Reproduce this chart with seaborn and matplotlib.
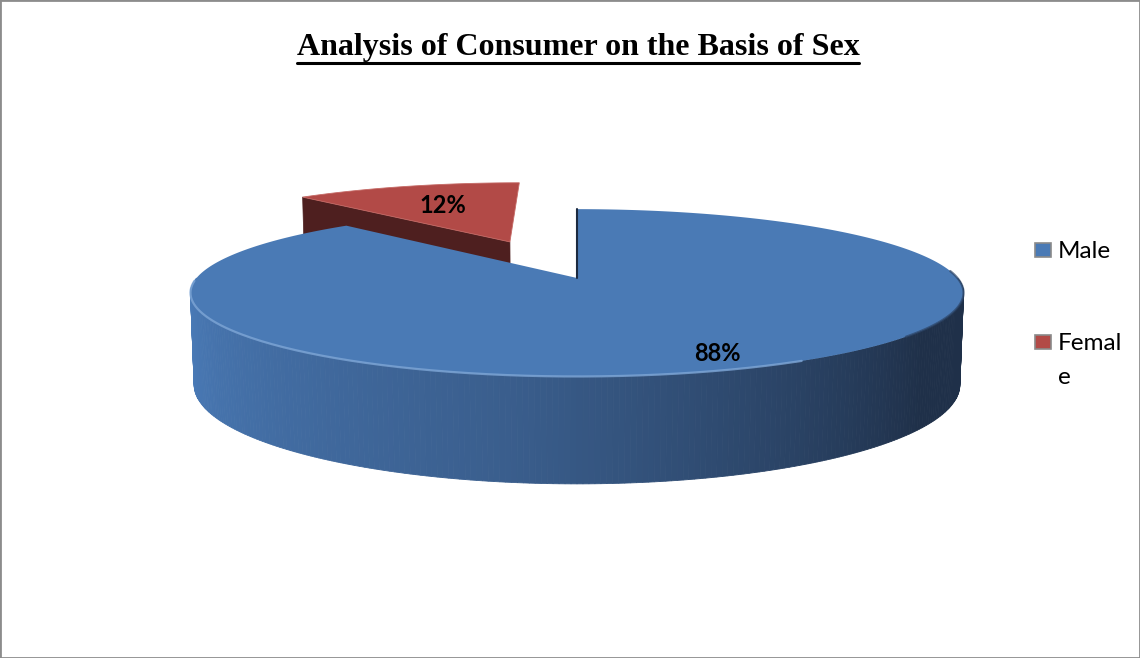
import numpy as np
import matplotlib
matplotlib.use("Agg")
import matplotlib.pyplot as plt
from matplotlib.patches import Polygon, Rectangle
from matplotlib.colors import to_rgb
import seaborn as sns

# datos del grafico
categories = ["Male", "Female"]
shares = [88, 12]
legend_labels = ["Male", "Femal\ne"]
title = "Analysis of Consumer on the Basis of Sex"

sns.set_theme(style="white")
plt.rcParams['font.family'] = ['Lato', 'DejaVu Sans']

top_colors = sns.color_palette(["#4a7ab5", "#b24a47"])
cut_colors = ["#1f3150", "#4e1f1f"]
explode = [0.0, 0.52]
label_radius = [0.86, 0.62]

# proyeccion en perspectiva del "pastel 3D"
E = np.radians(12.3)
D = 5.52
F = 2100
H = 0.243
CX, CY = 577, 278


def project(X, Y, Z):
    v = Y * np.sin(E) + Z * np.cos(E)
    w = D + Y * np.cos(E) - Z * np.sin(E)
    return CX + F * X / w, CY - F * v / w


def side_color(s):
    stops = [0.0, 0.45, 0.8, 1.0]
    cols = [to_rgb(c) for c in ["#4c7fbe", "#3a5e8d", "#1f3049", "#1f3049"]]
    return tuple(np.interp(s, stops, [c[i] for c in cols]) for i in range(3))


fig = plt.figure(figsize=(11.4, 6.58), dpi=100)
ax = fig.add_axes([0, 0, 1, 1])
ax.set_xlim(0, 1140)
ax.set_ylim(658, 0)
ax.axis("off")

# angulos de cada porcion (sentido horario desde las 12)
total = sum(shares)
starts, ends = [], []
a = 90.0
for v in shares:
    starts.append(a)
    a -= 360.0 * v / total
    ends.append(a)

# 1) porcion Female (detras)
i = 1
mid = np.radians((starts[i] + ends[i]) / 2)
ox, oy = explode[i] * np.cos(mid), explode[i] * np.sin(mid)
t = np.radians(np.linspace(starts[i], ends[i], 80))
# cara radial visible (borde izquierdo de la porcion)
te = np.radians(starts[i])
face = [project(ox, oy, 0), project(ox + np.cos(te), oy + np.sin(te), 0),
        project(ox + np.cos(te), oy + np.sin(te), -H), project(ox, oy, -H)]
ax.add_patch(Polygon(face, closed=True, facecolor=cut_colors[i], edgecolor=cut_colors[i], lw=0.5))
xs, ys = project(ox + np.cos(t), oy + np.sin(t), 0)
px, py = project(ox, oy, 0)
ax.add_patch(Polygon(np.column_stack([np.r_[px, xs], np.r_[py, ys]]), closed=True,
                     facecolor=top_colors[i], edgecolor="#c56a66", lw=0.6))

# 2) porcion Male: pared lateral con degradado
i = 0
n = 240
tt = np.radians(np.linspace(-180, 0, n + 1))
for k in range(n):
    t0, t1 = tt[k], tt[k + 1]
    quad = [project(np.cos(t0), np.sin(t0), 0), project(np.cos(t1), np.sin(t1), 0),
            project(np.cos(t1), np.sin(t1), -H), project(np.cos(t0), np.sin(t0), -H)]
    c = side_color(k / n)
    ax.add_patch(Polygon(quad, closed=True, facecolor=c, edgecolor=c, lw=0.6))

t = np.radians(np.linspace(starts[i], ends[i], 400))
xs, ys = project(np.cos(t), np.sin(t), 0)
px, py = project(0, 0, 0)
ax.add_patch(Polygon(np.column_stack([np.r_[px, xs], np.r_[py, ys]]), closed=True,
                     facecolor=top_colors[i], edgecolor="none"))
# brillo del borde frontal
tf = np.radians(np.linspace(-178, -60, 150))
fx, fy = project(np.cos(tf), np.sin(tf), 0)
ax.plot(fx, fy, color="#7ea6d6", lw=1.6, alpha=0.8)
tf = np.radians(np.linspace(-40, 5, 60))
fx, fy = project(np.cos(tf), np.sin(tf), 0)
ax.plot(fx, fy, color="#2c4466", lw=1.6, alpha=0.7)
rx, ry = project(0, 1, 0)
ax.plot([rx, px], [ry, py], color="#1c2a40", lw=1.5)

# etiquetas de porcentaje
for i, v in enumerate(shares):
    mid = np.radians((starts[i] + ends[i]) / 2)
    r = explode[i] + label_radius[i]
    lx, ly = project(r * np.cos(mid), r * np.sin(mid), 0)
    ax.text(lx, ly, f"{v}%", ha="center", va="center", fontsize=17,
            fontweight="bold", color="black")

# titulo subrayado
tt_ = ax.text(578, 47, title, ha="center", va="center", fontsize=23,
              fontweight="bold", color="black",
              family=["Liberation Serif", "DejaVu Serif"])
fig.canvas.draw()
bb = tt_.get_window_extent(renderer=fig.canvas.get_renderer())
inv = ax.transData.inverted()
(x0, y0), (x1, y1) = inv.transform([[bb.x0, bb.y0], [bb.x1, bb.y1]])
ax.plot([x0, x1], [y0 + 1, y0 + 1], color="black", lw=2.2)

# leyenda (dibujada a mano: la etiqueta partida alinea el marcador con la primera linea)
leg_y = [250, 342]
for j, lab in enumerate(legend_labels):
    ax.add_patch(Rectangle((1035, leg_y[j] - 7), 16, 14, facecolor=top_colors[j],
                           edgecolor="#8a8a8a", lw=1.2))
    ax.text(1058, leg_y[j] - 9, lab, ha="left", va="top", fontsize=17.5,
            linespacing=1.75, color="black")

fig.add_artist(Rectangle((0, 0), 1, 1, transform=fig.transFigure, fill=False,
                         edgecolor="#8c8c8c", lw=2))

plt.savefig("out.png", dpi=100)
